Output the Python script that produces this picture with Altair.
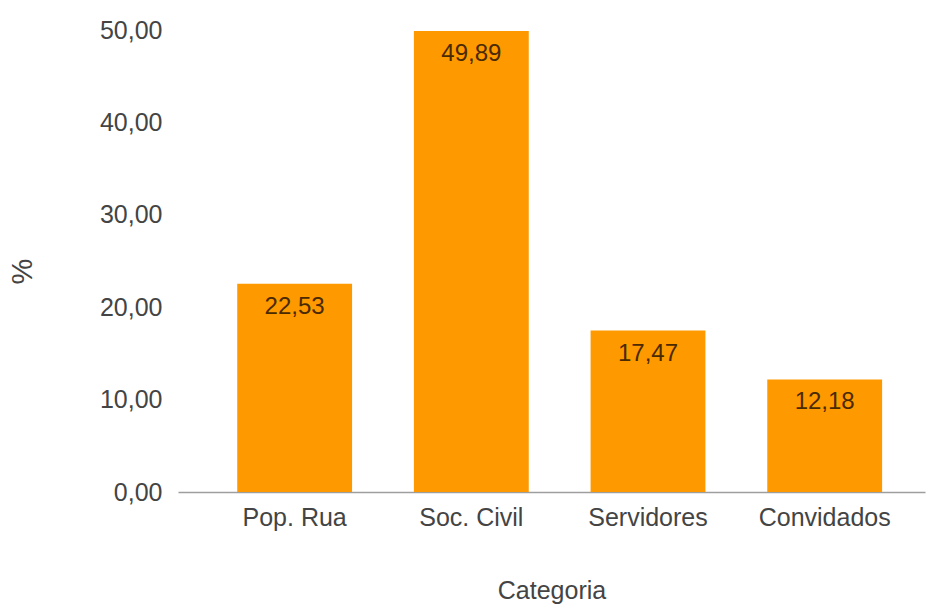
import altair as alt
import pandas as pd

categories = ["Pop. Rua", "Soc. Civil", "Servidores", "Convidados"]
values = [22.53, 49.89, 17.47, 12.18]
labels = ["22,53", "49,89", "17,47", "12,18"]
y_ticks = [0, 10, 20, 30, 40, 50]

df = pd.DataFrame({"Categoria": categories, "pct": values, "label": labels})

FONT = "Liberation Sans, Arial, sans-serif"

x_enc = alt.X(
    "Categoria:N",
    sort=categories,
    scale=alt.Scale(paddingInner=0.35, paddingOuter=0.289, align=0.58),
    axis=alt.Axis(
        title="Categoria",
        labelAngle=0,
        ticks=False,
        domainColor="#9e9e9e",
        domainWidth=1.5,
        labelPadding=13,
        labelFontSize=25,
        labelColor="#444444",
        labelFont=FONT,
        titleFont=FONT,
        titleFontSize=25,
        titleFontWeight="normal",
        titleColor="#444444",
        titleBaseline="middle",
        titleY=98,
    ),
)

y_enc = alt.Y(
    "pct:Q",
    scale=alt.Scale(domain=[0, 50], nice=False),
    axis=alt.Axis(
        title="%",
        values=y_ticks,
        labelExpr="replace(format(datum.value, '.2f'), '.', ',')",
        grid=False,
        ticks=False,
        domain=False,
        labelPadding=16,
        labelFontSize=25,
        labelColor="#444444",
        labelFont=FONT,
        titleFont=FONT,
        titleFontSize=29,
        titleFontWeight="normal",
        titleColor="#444444",
        titleAngle=-90,
        titleX=-156,
        titleY=241,
        titleAlign="center",
        titleBaseline="middle",
    ),
)

bars = alt.Chart(df).mark_bar(color="#FF9900").encode(x=x_enc, y=y_enc)

text = alt.Chart(df).mark_text(
    baseline="top", dy=11, fontSize=24, font=FONT, color="#4a2a00"
).encode(
    x=alt.X("Categoria:N", sort=categories),
    y=alt.Y("pct:Q"),
    text="label:N",
)

chart = (
    alt.layer(bars, text)
    .properties(
        width=747,
        height=462,
        autosize=alt.AutoSizeParams(type="none"),
        padding={"left": 178, "top": 30, "right": 7, "bottom": 113},
        background="white",
    )
    .configure_view(stroke=None)
)

chart.save("out.html", embed_options={"renderer": "svg", "actions": False})
